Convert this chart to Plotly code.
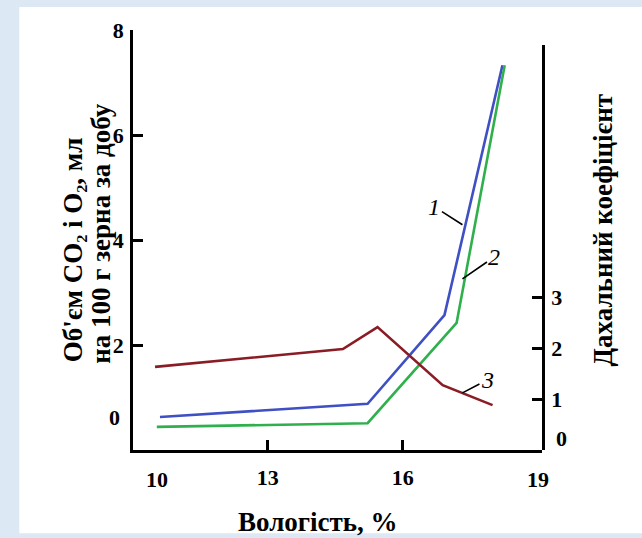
import plotly.graph_objects as go

# ---- data ----
moisture_1 = [10.6, 15.22, 16.93, 18.22]
co2_volume = [0.63, 0.88, 2.57, 7.33]          # curve 1

moisture_2 = [10.53, 15.22, 17.2, 18.27]
o2_volume = [0.44, 0.51, 2.42, 7.33]           # curve 2

moisture_3 = [10.49, 14.67, 15.44, 16.89, 18.0]
resp_coeff = [1.63, 1.98, 2.41, 1.27, 0.88]    # curve 3 (right axis)

x_tick_vals = [13, 16]
x_tick_text = ["13", "16"]
x_edge_vals = [10.53, 19]          # labels without tick marks
x_edge_text = ["10", "19"]
yl_tick_vals = [2, 4, 6, 8]
yl_zero_val = 0.61
yr_tick_vals = [1, 2, 3]
yr_zero_val = 0.235

BLUE = "#3f4fc4"
GREEN = "#2fb04c"
RED = "#8a1c26"
SERIF = "Liberation Serif"
tickfont = dict(family=SERIF, size=22, color="black", weight="bold")

fig = go.Figure()
fig.add_trace(go.Scatter(x=moisture_1, y=co2_volume, mode="lines",
                         line=dict(color=BLUE, width=2.6), xaxis="x", yaxis="y", showlegend=False))
fig.add_trace(go.Scatter(x=moisture_2, y=o2_volume, mode="lines",
                         line=dict(color=GREEN, width=2.6), xaxis="x", yaxis="y", showlegend=False))
fig.add_trace(go.Scatter(x=moisture_3, y=resp_coeff, mode="lines",
                         line=dict(color=RED, width=2.6), xaxis="x", yaxis="y2", showlegend=False))

axis_common = dict(showgrid=False, zeroline=False, automargin=False,
                   showline=True, linecolor="black", linewidth=2.6,
                   ticks="inside", ticklen=10, tickwidth=2.6, tickcolor="black",
                   tickfont=tickfont)

fig.update_layout(
    width=642, height=538,
    margin=dict(l=133, r=99.5, t=30, b=88),
    paper_bgcolor="#dce9f4",
    plot_bgcolor="rgba(0,0,0,0)",
    xaxis=dict(range=[10, 19.1], domain=[0, 1], anchor="y",
               tickvals=x_tick_vals, ticktext=x_tick_text,
               ticklabelstandoff=6, **axis_common),
    yaxis=dict(range=[0, 8], domain=[0, 1], anchor="x", side="left",
               tickvals=yl_tick_vals, ticklabelstandoff=2, **axis_common),
    yaxis2=dict(range=[0, 7.94], domain=[0, 0.964], anchor="x", side="right",
                tickvals=yr_tick_vals, ticklabelstandoff=2, **axis_common),
)

# white panel on the light-blue slide background
fig.add_shape(type="rect", xref="paper", yref="paper", layer="below",
              x0=-0.278, x1=1.25, y0=-0.198, y1=1.055,
              fillcolor="white", line=dict(width=0))

# tick labels that sit off their tick positions in the original
for v, t in zip(x_edge_vals, x_edge_text):
    fig.add_annotation(text=t, x=v, xref="x", y=-0.0714, yref="paper",
                       showarrow=False, xanchor="center", yanchor="middle", font=tickfont)
fig.add_annotation(text="0", x=-0.027, xref="paper", y=yl_zero_val, yref="y",
                   showarrow=False, xanchor="right", yanchor="middle", font=tickfont)
fig.add_annotation(text="0", x=1.03, xref="paper", y=yr_zero_val, yref="y2",
                   showarrow=False, xanchor="left", yanchor="middle", font=tickfont)

title_font = dict(family=SERIF, size=27, color="black", weight="bold")
fig.add_annotation(text="Об'єм CO₂ і O₂, мл", xref="paper", yref="paper",
                   x=-0.1465, y=0.476, textangle=-90, showarrow=False,
                   xanchor="center", yanchor="middle", font=title_font)
fig.add_annotation(text="на 100 г зерна за добу", xref="paper", yref="paper",
                   x=-0.078, y=0.515, textangle=-90, showarrow=False,
                   xanchor="center", yanchor="middle", font=title_font)
fig.add_annotation(text="Дахальний коефіцієнт", xref="paper", yref="paper",
                   x=1.148, y=0.524, textangle=-90, showarrow=False,
                   xanchor="center", yanchor="middle", font=title_font)
fig.add_annotation(text="Вологість, %", xref="paper", yref="paper",
                   x=0.452, y=-0.172, showarrow=False,
                   xanchor="center", yanchor="middle", font=title_font)

# curve labels with leader lines
label_font = dict(family=SERIF, size=24, color="black", style="italic")
fig.add_annotation(text="1", x=17.33, y=4.29, xref="x", yref="y",
                   ax=-28, ay=-18, showarrow=True, arrowhead=0, arrowwidth=1.6,
                   arrowcolor="black", font=label_font)
fig.add_annotation(text="2", x=17.33, y=3.26, xref="x", yref="y",
                   ax=32, ay=-22, showarrow=True, arrowhead=0, arrowwidth=1.6,
                   arrowcolor="black", font=label_font)
fig.add_annotation(text="3", x=17.33, y=1.12, xref="x", yref="y2",
                   ax=25, ay=-13, showarrow=True, arrowhead=0, arrowwidth=1.6,
                   arrowcolor="black", font=label_font)

fig.write_html("out.html", config={"displayModeBar": False},
               post_script="document.body.style.margin='0';")
